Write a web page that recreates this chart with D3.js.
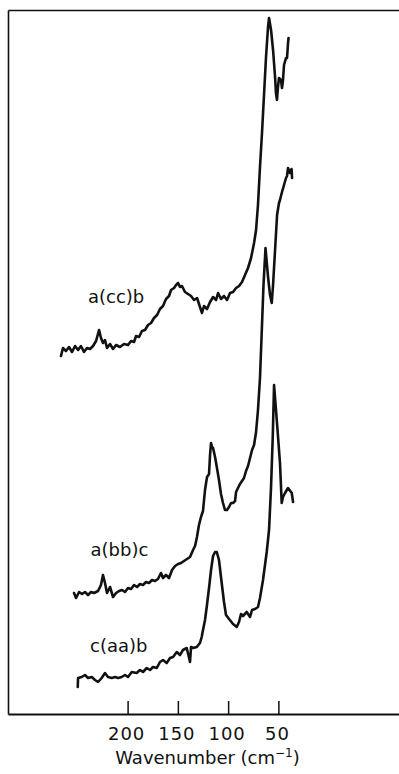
<!DOCTYPE html>
<html>
<head>
<meta charset="utf-8">
<script src="https://cdn.jsdelivr.net/npm/d3@7"></script>
<style>
  html, body { margin: 0; padding: 0; background: #fff; }
  svg { display: block; }
  text { font-family: "DejaVu Sans", sans-serif; fill: #111; }
</style>
</head>
<body>
<svg id="chart" width="399" height="774"></svg>
<script>
// Polarised low-frequency Raman spectra, intensity in arbitrary units
// (traces offset vertically). Pairs are [wavenumber cm^-1, intensity].
const spectrumCCB = [
  [266.3,358],[264.3,366],[261.3,363],[258.3,367],[255.3,362],[252.3,368],[249.3,364],[246.4,368],
  [243.4,362],[240.4,366],[237.4,365],[234.4,368],[231.4,373],[228.4,384],[226.5,376],[224.5,371],
  [222.5,374],[220.5,366],[217.5,370],[214.5,365],[211.5,369],[207.6,367],[203.6,370],[199.6,369],
  [196.6,373],[193.6,372],[191.6,378],[188.6,377],[185.7,383],[182.7,384],[179.7,389],[176.7,391],
  [173.7,396],[170.7,399],[167.8,405],[164.8,408],[161.8,415],[158.8,418],[156.8,424],[153.8,426],
  [151.8,429],[149.8,431],[147.9,427],[145.9,428],[142.9,422],[139.9,420],[136.9,418],[133.9,414],
  [130.9,416],[128.0,407],[126.0,401],[124.0,408],[121.0,405],[118.0,412],[115.0,417],[112.0,414],
  [110.0,421],[107.1,415],[104.1,418],[101.1,414],[98.1,421],[95.1,422],[92.1,426],[89.1,428],
  [86.2,432],[83.2,439],[80.2,446],[77.2,456],[74.2,471],[72.2,484],[70.3,509],[68.3,547],
  [66.3,581],[64.3,619],[62.3,657],[60.3,687],[59.3,696],[57.3,684],[55.3,664],[53.3,637],
  [52.4,621],[51.4,614],[50.4,627],[49.4,636],[47.4,634],[46.4,626],[45.4,634],[44.4,649],
  [42.4,656],[41.4,656],[40.4,671],[39.9,676]
];

const spectrumBBC = [
  [253.3,121],[251.3,116],[248.3,122],[245.4,120],[242.4,122],[239.4,119],[236.4,122],[233.4,121],
  [229.4,123],[226.5,129],[224.5,139],[222.5,131],[220.5,121],[217.5,127],[214.5,117],[211.5,121],
  [208.5,123],[205.6,124],[202.6,122],[199.6,126],[196.6,125],[193.6,129],[190.6,127],[187.7,130],
  [184.7,129],[181.7,132],[178.7,131],[175.7,134],[172.7,133],[169.8,135],[166.8,141],[164.8,136],
  [161.8,139],[158.8,136],[155.8,144],[152.8,148],[149.8,150],[146.9,151],[143.9,153],[140.9,155],
  [137.9,157],[134.9,164],[132.9,168],[131.0,177],[129.0,189],[127.0,197],[125.0,203],[123.0,224],
  [121.0,237],[119.0,240],[118.0,259],[117.0,271],[116.0,267],[115.0,266],[113.0,257],[111.1,246],
  [109.1,234],[107.1,220],[105.1,211],[103.1,204],[101.1,204],[99.1,207],[97.1,211],[95.1,211],
  [93.1,213],[92.1,222],[90.2,226],[88.2,230],[86.2,233],[84.2,236],[82.2,243],[80.2,248],
  [78.2,256],[76.2,264],[74.2,269],[72.2,282],[70.3,304],[68.3,336],[66.3,389],[64.8,429],
  [62.8,466],[60.3,437],[58.3,419],[56.6,411],[55.3,429],[53.3,464],[51.3,499],[49.4,511],
  [48.4,514],[46.4,522],[44.4,529],[42.4,536],[41.4,538],[40.4,546],[38.4,541],[36.9,545],
  [36.4,536]
];

const spectrumAAB = [
  [249.6,27],[249.3,36],[245.7,37],[242.4,39],[239.4,36],[235.7,37],[232.4,34],[229.4,32],
  [225.8,36],[222.5,41],[219.5,37],[215.8,36],[212.5,37],[209.5,36],[205.9,37],[202.6,39],
  [199.6,37],[195.9,42],[191.0,41],[187.7,44],[184.7,42],[181.0,46],[177.7,44],[174.7,47],
  [171.0,46],[167.8,52],[164.8,54],[161.1,51],[157.8,56],[154.8,57],[151.1,62],[147.9,59],
  [144.9,64],[141.2,66],[137.9,52],[136.9,67],[134.9,66],[131.2,67],[128.0,71],[126.3,77],
  [125.0,84],[123.0,94],[121.3,107],[119.0,126],[117.0,144],[115.0,158],[113.0,162],[111.3,162],
  [109.1,154],[106.4,131],[104.1,112],[102.1,99],[99.1,95],[95.1,90],[91.4,87],[89.2,92],
  [87.2,100],[85.2,98],[81.5,102],[78.2,97],[76.2,104],[73.2,105],[70.3,107],[68.3,116],
  [65.3,134],[61.6,162],[59.3,184],[57.3,227],[55.6,277],[54.3,329],[51.6,294],[48.4,251],
  [46.7,211],[45.4,217],[43.4,221],[40.4,226],[36.7,221],[35.4,212]
];

const seriesNames = ["a(cc)b", "a(bb)c", "c(aa)b"];
const seriesData = [spectrumCCB, spectrumBBC, spectrumAAB];
// where each trace's scattering-geometry label sits: [wavenumber, intensity]
const labelAnchors = [[239.4, 411], [236.9, 158], [237.4, 62]];

const tickValues = [200, 150, 100, 50];
const axisTitle = "Wavenumber (cm";

const plotLeft = 8, plotRight = 399, plotTop = 10, plotBottom = 714;

const svg = d3.select("#chart");

const x = d3.scaleLinear().domain([319, -70]).range([plotLeft, plotRight]);
const y = d3.scaleLinear().domain([0, 704]).range([plotBottom, plotTop]);

// frame: left edge, top edge
svg.append("g")
  .attr("transform", `translate(${plotLeft},0)`)
  .call(d3.axisLeft(y).tickValues([]).tickSizeOuter(0))
  .call(g => g.select(".domain").attr("stroke", "#111").attr("stroke-width", 1.6));

svg.append("g")
  .attr("transform", `translate(0,${plotTop})`)
  .call(d3.axisTop(x).tickValues([]).tickSizeOuter(0))
  .call(g => g.select(".domain").attr("stroke", "#111").attr("stroke-width", 1.4));

// wavenumber axis with inward ticks
const xAxis = svg.append("g")
  .attr("transform", `translate(0,${plotBottom})`)
  .call(d3.axisBottom(x).tickValues(tickValues).tickSizeInner(-13).tickSizeOuter(0)
    .tickFormat(d3.format("d")));
xAxis.select(".domain").attr("stroke", "#111").attr("stroke-width", 1.8);
xAxis.selectAll(".tick line").attr("stroke", "#111").attr("stroke-width", 1.5);
xAxis.selectAll(".tick text")
  .attr("x", -1.5)
  .attr("y", 26).attr("dy", null)
  .attr("fill", "#111")
  .style("font-family", '"DejaVu Sans", sans-serif')
  .style("font-size", "18px")
  .style("letter-spacing", "1px");

// axis title with superscript
const title = svg.append("text")
  .attr("x", 207.5).attr("y", 764)
  .attr("text-anchor", "middle")
  .style("font-size", "18px");
title.append("tspan").text(axisTitle);
title.append("tspan").attr("dy", -7).style("font-size", "12px").text("\u22121");
title.append("tspan").attr("dy", 7).text(")");

// spectra
const line = d3.line().x(d => x(d[0])).y(d => y(d[1])).curve(d3.curveLinear);

svg.append("g").selectAll("path")
  .data(seriesData)
  .join("path")
  .attr("d", line)
  .attr("fill", "none")
  .attr("stroke", "#111")
  .attr("stroke-width", 2.6)
  .attr("stroke-linejoin", "round")
  .attr("stroke-linecap", "round");

svg.append("g").selectAll("text")
  .data(seriesNames)
  .join("text")
  .attr("x", (d, i) => x(labelAnchors[i][0]))
  .attr("y", (d, i) => y(labelAnchors[i][1]))
  .style("font-size", "18px")
  .text(d => d);
</script>
</body>
</html>
